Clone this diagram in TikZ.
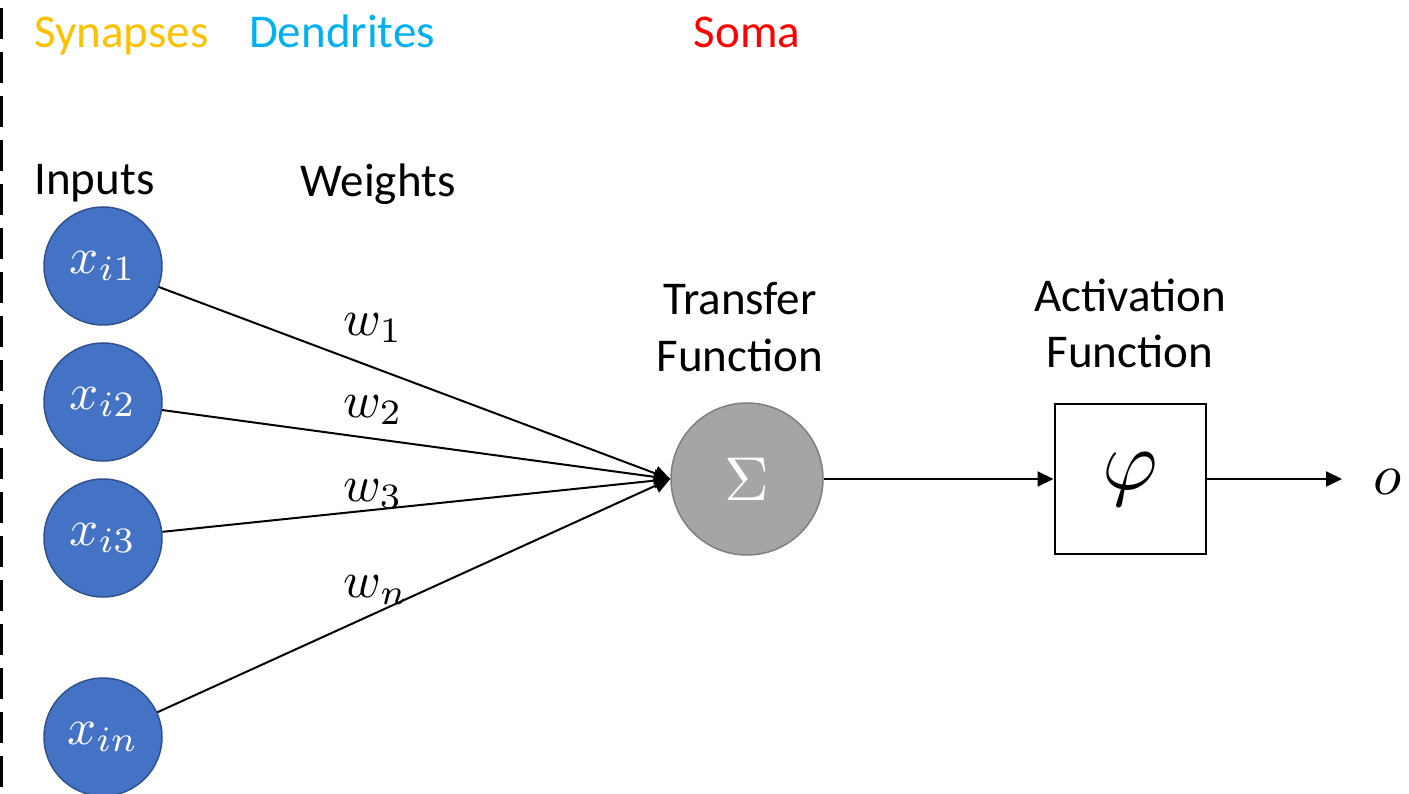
\documentclass[tikz,border=0pt]{standalone}
\usepackage{fontspec}
\usepackage{graphicx}
\setmainfont{Carlito}
\usetikzlibrary{arrows.meta}
\definecolor{inblue}{HTML}{4472C4}
\definecolor{inedge}{HTML}{2F528F}
\definecolor{sumgray}{HTML}{A5A5A5}
\definecolor{sumedge}{HTML}{7F7F7F}
\definecolor{synorange}{HTML}{FFC000}
\definecolor{dendblue}{HTML}{00B0F0}
\definecolor{somared}{HTML}{FF0000}
% enlarged math symbols (math fonts at design size, scaled up)
\newcommand{\mathsz}[2]{\scalebox{#1}{$#2$}}

\begin{document}
\begin{tikzpicture}[x=1pt,y=-1pt,
  word/.style={font=\fontsize{47}{57}\selectfont, inner sep=0pt, outer sep=0pt, anchor=base, align=center},
  mathlbl/.style={inner sep=0pt},
  inputnode/.style={circle, draw=inedge, line width=1.5pt, fill=inblue, minimum size=118pt, inner sep=0pt, text=white},
  sumnode/.style={circle, draw=sumedge, line width=1.5pt, fill=sumgray, minimum size=152pt, inner sep=0pt, text=white},
  actbox/.style={rectangle, draw=black, line width=2pt, minimum width=151pt, minimum height=150pt, inner sep=0pt},
  link/.style={line width=2pt, -{Triangle[length=16pt,width=15pt]}}
]
\useasboundingbox (0,0) rectangle (1409,794);

% left border
\draw[line width=2.5pt, dash pattern=on 31pt off 13pt] (1.5,8) coordinate (btop) -- (1.5,794) coordinate (bbot);

% region titles
\node[word, text=synorange] (syn) at (121.5,48) {Synapses};
\node[word, text=dendblue] (den) at (342,48) {Dendrites};
\node[word, text=somared] (soma) at (747,48) {Soma};

% column titles
\node[word] (inp) at (94.5,195) {Inputs};
\node[word] (wts) at (378,197) {Weights};
\node[word] (tf) at (740,372) {Transfer\\Function};
\node[word] (af) at (1130,368) {Activation\\Function};

% inputs
\node[inputnode] (x1) at (103,266) {\mathsz{5.1}{x_{i1}}};
\node[inputnode] (x2) at (103,402) {\mathsz{5.1}{x_{i2}}};
\node[inputnode] (x3) at (103,538) {\mathsz{5.1}{x_{i3}}};
\node[inputnode] (xn) at (103,737) {\mathsz{5.1}{x_{in}}};

% summation and activation
\node[sumnode] (sum) at (747,479) {\mathsz{6.2}{\Sigma}};
\node[actbox] (act) at (1130,479) {\mathsz{8.5}{\varphi}};
\node[mathlbl] (out) at (1388,482) {\mathsz{5.8}{o}};
\coordinate (outtip) at (1342,479);

% weighted connections
\draw[link] (x1) -- (sum.west);
\draw[link] (x2) -- (sum.west);
\draw[link] (x3) -- (sum.west);
\draw[link] (xn) -- (sum.west);
\draw[link] (sum) -- (act);
\draw[link] (act) -- (outtip);

% weight labels
\node[mathlbl] (w1) at (373,328) {\mathsz{5.1}{w_1}};
\node[mathlbl] (w2) at (373,410) {\mathsz{5.1}{w_2}};
\node[mathlbl] (w3) at (373,494) {\mathsz{5.1}{w_3}};
\node[mathlbl] (wn) at (376,590) {\mathsz{5.1}{w_n}};
\end{tikzpicture}
\end{document}
